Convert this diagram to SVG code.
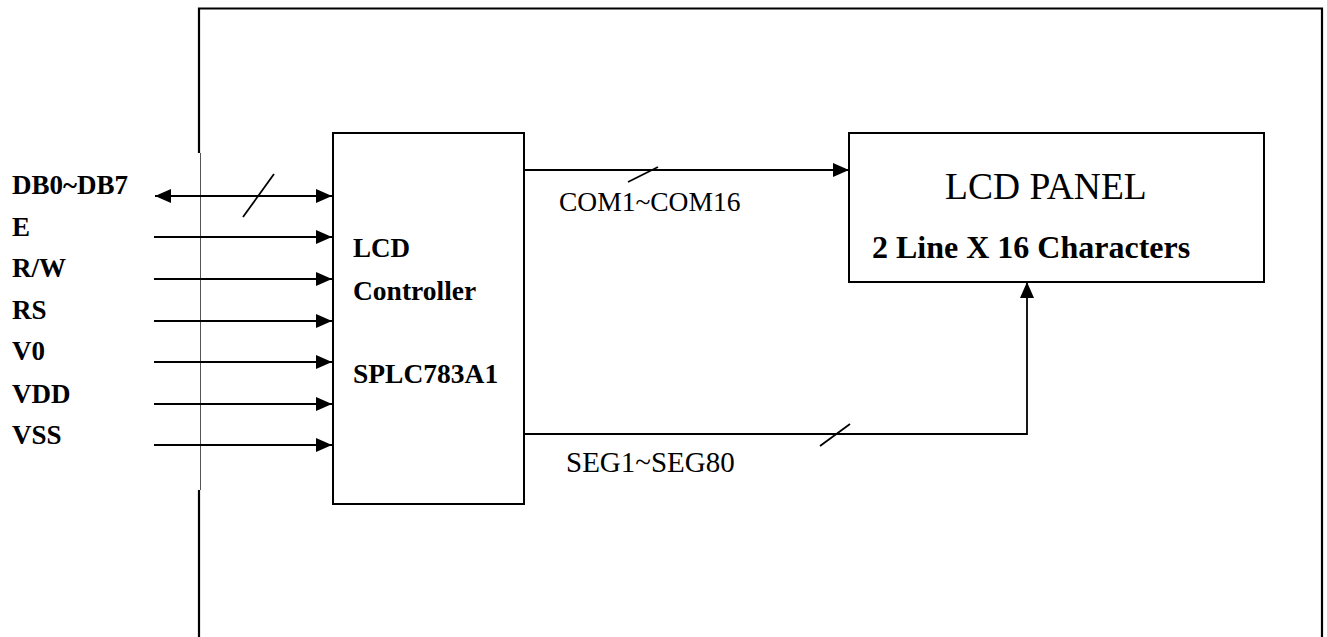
<svg xmlns="http://www.w3.org/2000/svg" width="1327" height="637" viewBox="0 0 1327 637">
<defs>
<style>
.ln{stroke:#000;stroke-width:1.8;fill:none}
.box{stroke:#000;stroke-width:2;fill:#fff}
.frame{stroke:#000;stroke-width:2.2;fill:none}
.lbl{font-family:"Liberation Serif","Times New Roman",serif;font-weight:bold;font-size:27px;fill:#000}
.reg{font-family:"Liberation Serif","Times New Roman",serif;font-size:27px;fill:#000}
</style>
<marker id="ah" viewBox="0 0 16 14" refX="16" refY="7" markerWidth="16" markerHeight="14" markerUnits="userSpaceOnUse" orient="auto-start-reverse">
<path d="M0,0 L16,7 L0,14 Z" fill="#000"/>
</marker>
</defs>
<rect width="1327" height="637" fill="#fff"/>
<g id="frame">
<path class="frame" d="M199,153 V8.5 H1322 V637"/>
<path class="frame" d="M199,490 V637"/>
<line x1="200.5" y1="153" x2="200.5" y2="490" stroke="#555" stroke-width="1"/>
</g>
<g id="input-labels">
<text class="lbl" x="12" y="194">DB0~DB7</text>
<text class="lbl" x="12" y="236">E</text>
<text class="lbl" x="12" y="277">R/W</text>
<text class="lbl" x="12" y="319">RS</text>
<text class="lbl" x="12" y="360">V0</text>
<text class="lbl" x="12" y="403">VDD</text>
<text class="lbl" x="12" y="444">VSS</text>
</g>
<g id="controller">
<rect class="box" x="333" y="133" width="191" height="371"/>
<text class="lbl" x="353" y="257">LCD</text>
<text class="lbl" x="353" y="300" style="font-size:27.5px">Controller</text>
<text class="lbl" x="353" y="383" style="font-size:27.5px">SPLC783A1</text>
</g>
<g id="panel">
<rect class="box" x="849" y="133" width="415" height="149"/>
<text class="reg" x="945" y="199" style="font-size:37.5px">LCD PANEL</text>
<text class="lbl" x="872" y="258" style="font-size:32px">2 Line X 16 Characters</text>
</g>
<g id="connectors">
<line class="ln" x1="155" y1="196" x2="332" y2="196" marker-start="url(#ah)" marker-end="url(#ah)"/>
<line class="ln" x1="243" y1="217" x2="274" y2="174"/>
<line class="ln" x1="154" y1="237" x2="332" y2="237" marker-end="url(#ah)"/>
<line class="ln" x1="154" y1="279" x2="332" y2="279" marker-end="url(#ah)"/>
<line class="ln" x1="154" y1="321" x2="332" y2="321" marker-end="url(#ah)"/>
<line class="ln" x1="154" y1="362" x2="332" y2="362" marker-end="url(#ah)"/>
<line class="ln" x1="154" y1="404" x2="332" y2="404" marker-end="url(#ah)"/>
<line class="ln" x1="154" y1="445" x2="332" y2="445" marker-end="url(#ah)"/>
<line class="ln" x1="524" y1="170" x2="849" y2="170" marker-end="url(#ah)"/>
<line class="ln" x1="628" y1="182" x2="658" y2="167"/>
<text class="reg" x="559" y="211" style="font-size:27.5px">COM1~COM16</text>
<polyline class="ln" points="524,434 1027,434 1027,282" marker-end="url(#ah)"/>
<line class="ln" x1="820" y1="446" x2="850" y2="424"/>
<text class="reg" x="566" y="472" style="font-size:29px">SEG1~SEG80</text>
</g>
</svg>
